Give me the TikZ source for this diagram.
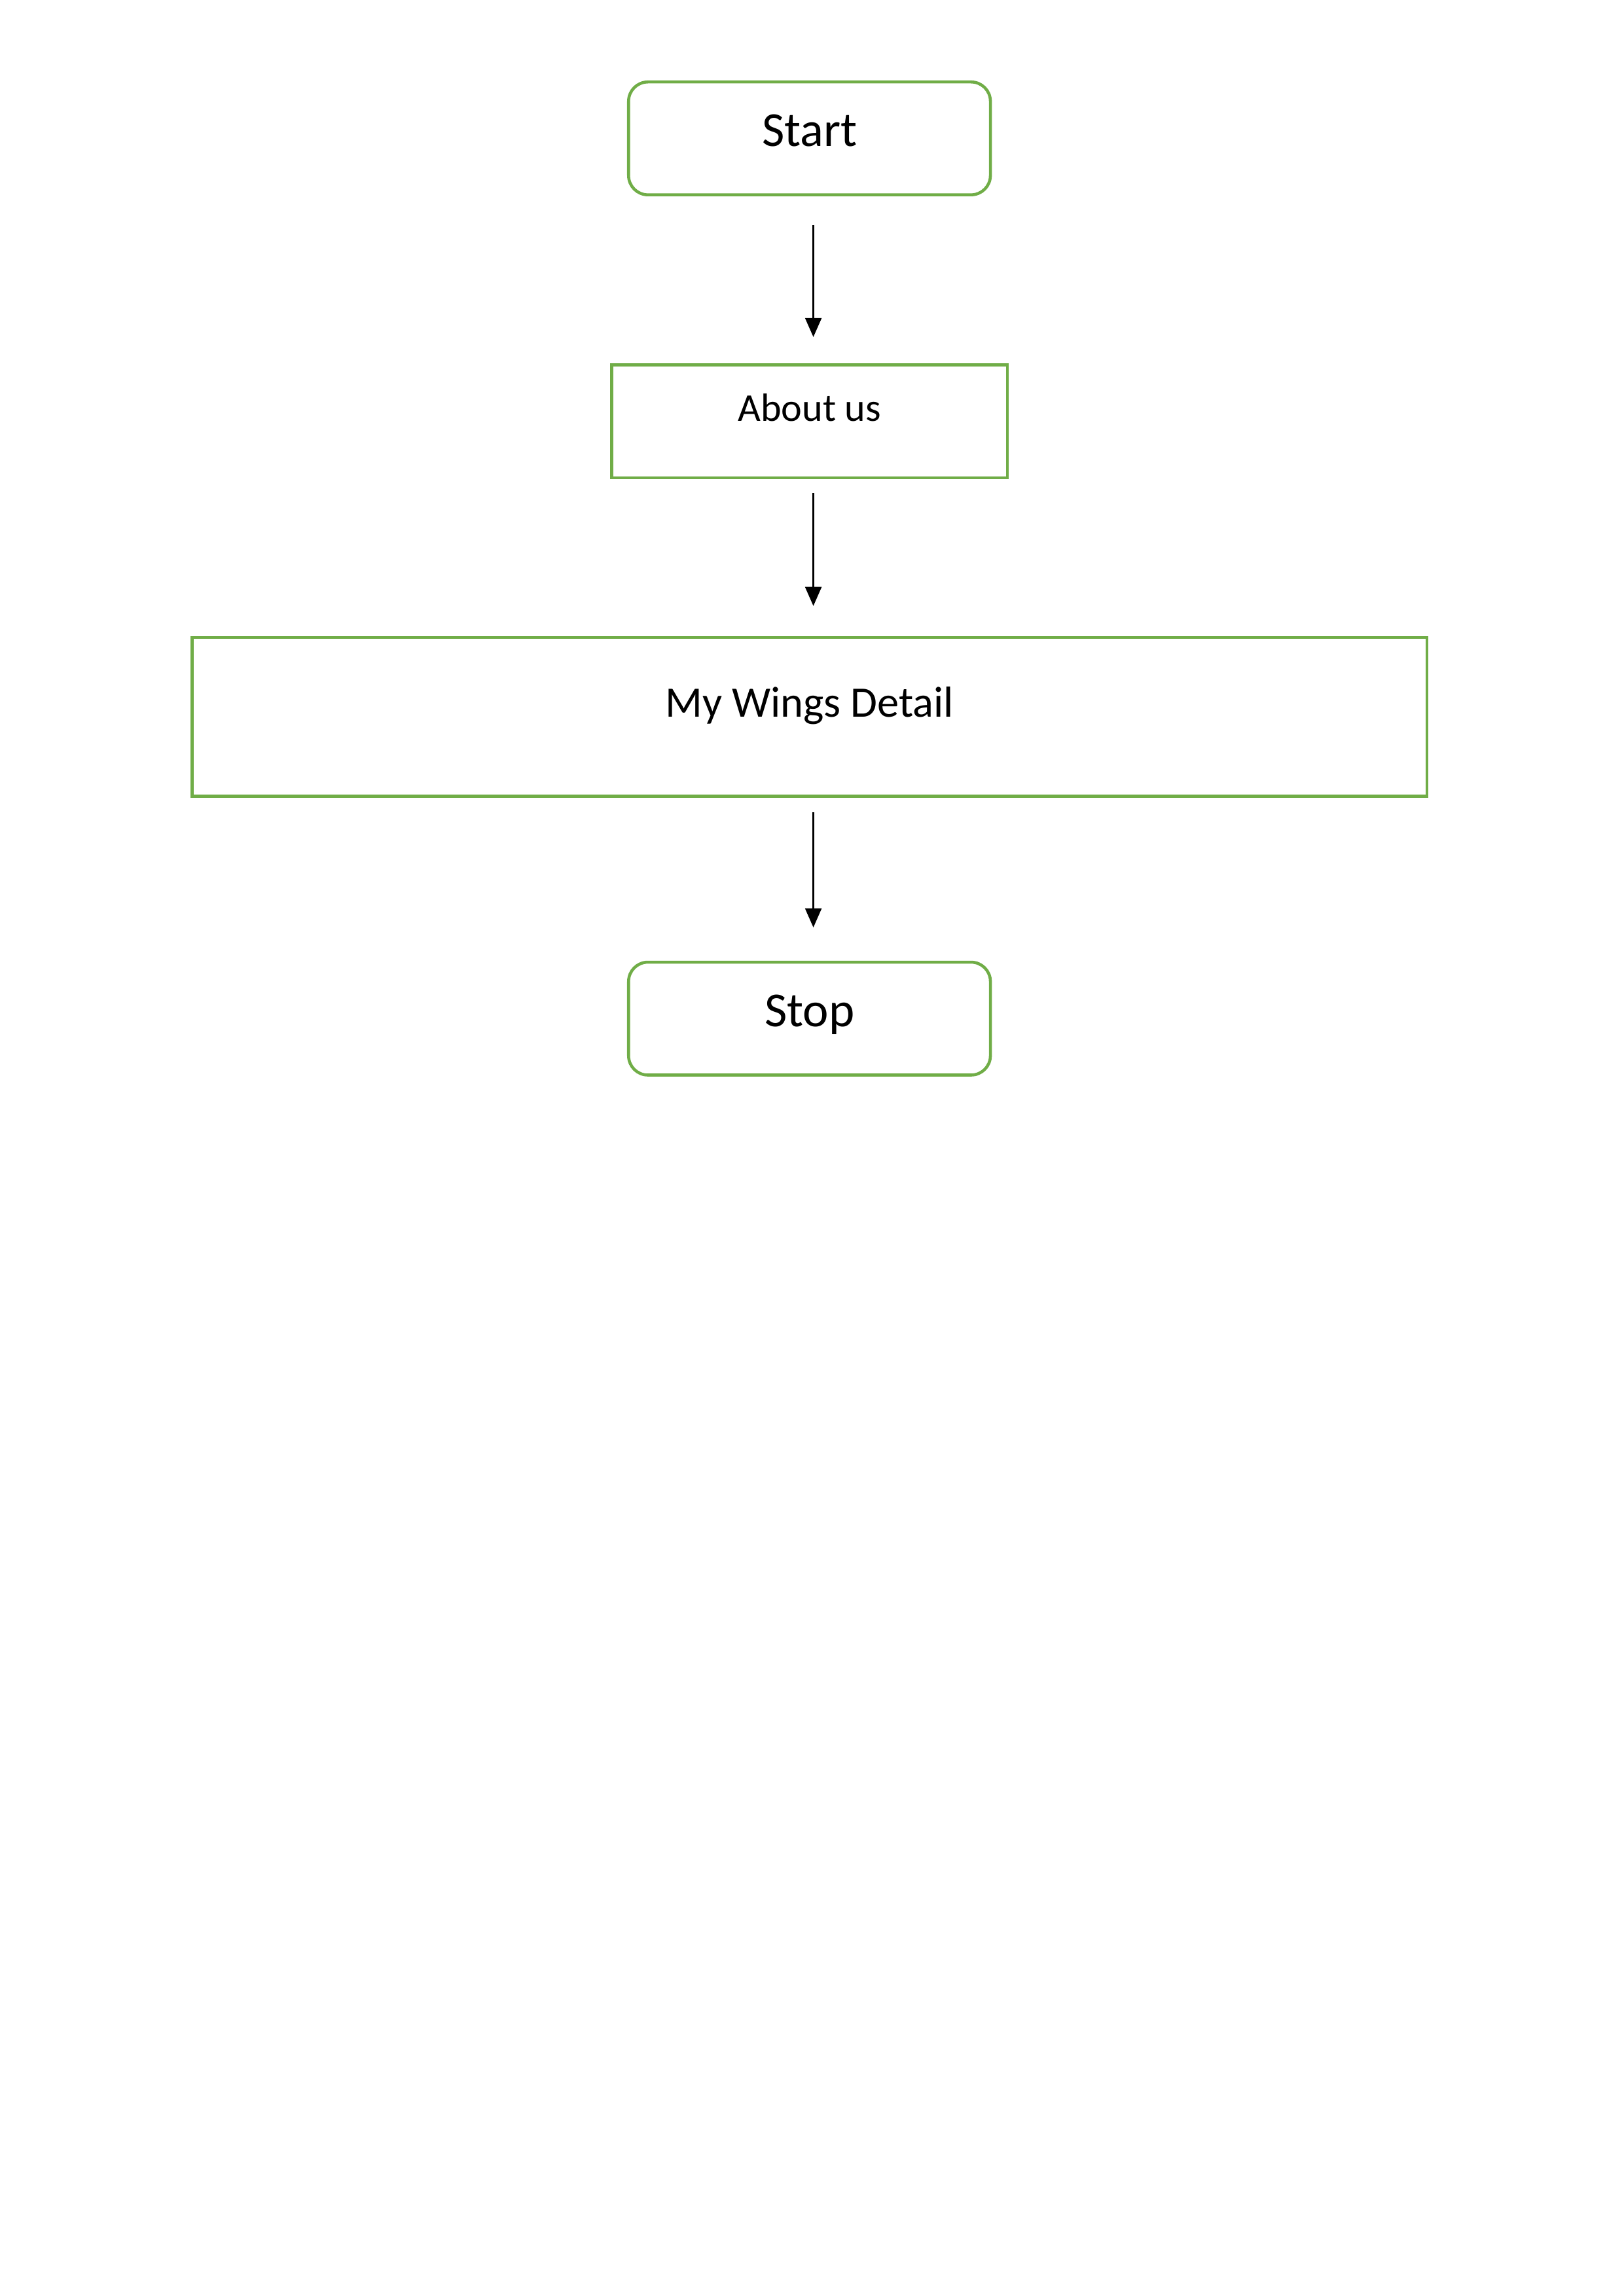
\documentclass[tikz,border=0pt]{standalone}
\usepackage{fontspec}
\setmainfont{Carlito}
\usepackage{tikz}
\usetikzlibrary{arrows.meta,shapes,positioning}
\definecolor{boxgreen}{HTML}{70AD47}
\tikzset{
  termbox/.style={draw=boxgreen, line width=1.1pt, rounded corners=0.25cm, minimum width=4.68cm, minimum height=1.46cm, font=\fontsize{18}{21}\selectfont, text height=0.4cm, text depth=0.2cm},
  pagebox/.style={draw=boxgreen, line width=1.1pt, minimum height=1.46cm, text height=0.3cm, text depth=0.3cm},
  flow/.style={-{Triangle[length=7pt,width=6pt]}, line width=0.6pt}
}

\begin{document}
\begin{tikzpicture}[node distance=2.15cm and 0.5cm]
   \useasboundingbox (0,0) rectangle (21,-29.7);
   \node[termbox] (start) at (10.47,-1.79) {Start};
   \node[pagebox, minimum width=5.12cm, font=\fontsize{14.5}{17}\selectfont] (about) [below=2.16cm of start] {About us};
   \node[pagebox, minimum width=15.97cm, minimum height=2.05cm, font=\fontsize{16}{19}\selectfont] (wings) [below=2.03cm of about] {My Wings Detail};
   \node[termbox] (stop) [below=2.11cm of wings] {Stop};

  \draw[flow, shorten <=0.37cm, shorten >=0.34cm] ([xshift=0.5mm]start.south) -- ([xshift=0.5mm]about.north);
  \draw[flow, shorten <=0.18cm, shorten >=0.39cm] ([xshift=0.5mm]about.south) -- ([xshift=0.5mm]wings.north);
  \draw[flow, shorten <=0.19cm, shorten >=0.43cm] ([xshift=0.5mm]wings.south) -- ([xshift=0.5mm]stop.north);

\end{tikzpicture}
\end{document}
